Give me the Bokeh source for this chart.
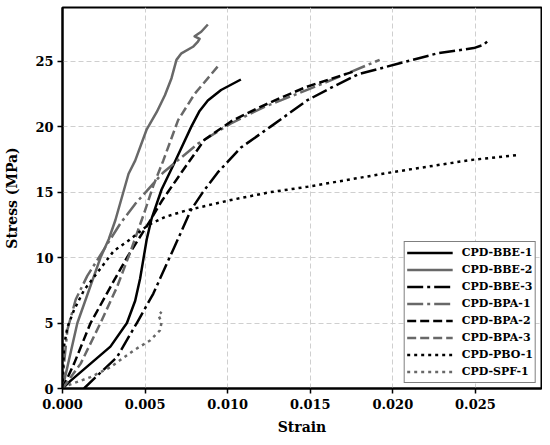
from bokeh.plotting import figure
from bokeh.models import Range1d, FixedTicker, NumeralTickFormatter, Legend, LegendItem
from bokeh.embed import file_html
from bokeh.resources import INLINE

# ---- data ----
bbe1_s = [0, 0.0005, 0.0017, 0.0029, 0.0039, 0.0044, 0.0047, 0.0049, 0.0051, 0.0054, 0.0060, 0.0068,
          0.0078, 0.0083, 0.0088, 0.0096, 0.0108]
bbe1_y = [0, 0.6, 1.9, 3.2, 5.0, 6.7, 8.4, 9.9, 11.4, 13.0, 15.2, 17.3,
          20.0, 21.2, 22.0, 22.8, 23.6]

bbe2_s = [0, 0.0009, 0.0023, 0.0028, 0.0032, 0.0040, 0.0044, 0.0051, 0.0057, 0.0062, 0.0066, 0.0069,
          0.0072, 0.0079, 0.0082, 0.0083, 0.0080, 0.0084, 0.0088]
bbe2_y = [0, 5.0, 10.0, 11.4, 12.85, 16.4, 17.4, 19.8, 21.1, 22.4, 23.7, 25.1,
          25.6, 26.1, 26.5, 26.7, 26.9, 27.25, 27.8]

bbe3_s = [0.0013, 0.0019, 0.0033, 0.0045, 0.0055, 0.0063, 0.0067, 0.0072, 0.00776, 0.0085, 0.0094,
          0.0108, 0.0126, 0.0148, 0.0163, 0.0179, 0.0203, 0.0227, 0.0249, 0.0255, 0.0258]
bbe3_y = [0, 0.74, 2.4, 5.0, 7.25, 9.5, 10.6, 12.0, 13.6, 15.0, 16.5,
          18.4, 20.0, 22.0, 23.0, 24.0, 24.8, 25.6, 26.0, 26.25, 26.6]

bpa1_s = [0, 0.0001, 0.0003, 0.0008, 0.0015, 0.0026, 0.0035, 0.0044, 0.0061, 0.0082, 0.0102,
          0.0122, 0.0150, 0.0175, 0.0192]
bpa1_y = [0, 2.0, 4.5, 6.8, 8.6, 10.8, 12.6, 14.1, 16.5, 18.7, 20.25,
          21.5, 22.9, 24.2, 25.1]

bpa2_s = [0, 0.0007, 0.0017, 0.0029, 0.0039, 0.0052, 0.0060, 0.0072, 0.0086, 0.0102, 0.0118,
          0.0132, 0.0148, 0.0176]
bpa2_y = [0, 1.9, 5.0, 7.75, 10.0, 12.6, 14.3, 16.5, 19.0, 20.4, 21.4,
          22.2, 23.05, 24.2]

bpa3_s = [0, 0.0011, 0.0023, 0.0033, 0.0041, 0.0050, 0.0055, 0.0061, 0.0070, 0.0080, 0.0094]
bpa3_y = [0, 1.9, 5.0, 7.75, 10.4, 13.6, 15.5, 17.4, 20.5, 22.5, 24.6]

pbo1_s = [0, 0.00005, 0.0001, 0.0003, 0.0007, 0.0013, 0.0019, 0.0031, 0.0040, 0.0052, 0.0062, 0.0075,
          0.0102, 0.0126, 0.0148, 0.0201, 0.0247, 0.0275]
pbo1_y = [0, 2.0, 3.3, 4.7, 6.0, 7.5, 8.5, 10.5, 11.3, 12.5, 13.1, 13.6,
          14.4, 15.0, 15.4, 16.55, 17.45, 17.83]

spf1_s = [0, 0.0003, 0.0017, 0.0029, 0.0043, 0.0053, 0.0059, 0.0060, 0.0058, 0.0060]
spf1_y = [0, 0.23, 0.87, 1.63, 2.9, 3.67, 4.44, 5.07, 5.6, 5.85]

labels = ["CPD-BBE-1", "CPD-BBE-2", "CPD-BBE-3", "CPD-BPA-1",
          "CPD-BPA-2", "CPD-BPA-3", "CPD-PBO-1", "CPD-SPF-1"]
x_ticks = [0.0, 0.005, 0.010, 0.015, 0.020, 0.025]
y_ticks = [0, 5, 10, 15, 20, 25]

series = [(bbe1_s, bbe1_y), (bbe2_s, bbe2_y), (bbe3_s, bbe3_y), (bpa1_s, bpa1_y),
          (bpa2_s, bpa2_y), (bpa3_s, bpa3_y), (pbo1_s, pbo1_y), (spf1_s, spf1_y)]

BLACK = "#000000"
GRAY = "#686868"
styles = [
    (BLACK, "solid"),
    (GRAY, "solid"),
    (BLACK, "16 4 3 4"),
    (GRAY, "16 4 3 4"),
    (BLACK, "9 4"),
    (GRAY, "9 4"),
    (BLACK, "3 4"),
    (GRAY, "3 4"),
]

FONT = "DejaVu Serif"

p = figure(width=542, height=437, output_backend="svg", toolbar_location=None,
           x_range=Range1d(0, 0.029), y_range=Range1d(0, 29.1),
           min_border_left=62, min_border_right=1, min_border_top=7, min_border_bottom=48)

p.outline_line_color = "black"
p.outline_line_width = 2
p.background_fill_color = "white"
p.border_fill_color = "white"

for g in (p.xgrid, p.ygrid):
    g.grid_line_color = "#cfcfcf"
    g.grid_line_dash = "5 3"
    g.grid_line_width = 1

p.xaxis.ticker = FixedTicker(ticks=x_ticks)
p.yaxis.ticker = FixedTicker(ticks=y_ticks)
p.xaxis.formatter = NumeralTickFormatter(format="0.000")

for ax in (p.xaxis, p.yaxis):
    ax.axis_line_width = 2
    ax.axis_line_color = "black"
    ax.major_tick_in = 0
    ax.major_tick_out = 5
    ax.major_tick_line_width = 1.5
    ax.major_tick_line_color = "black"
    ax.minor_tick_line_color = None
    ax.major_label_text_font = FONT
    ax.major_label_text_font_style = "bold"
    ax.major_label_text_font_size = "13px"
    ax.major_label_text_color = "black"
    ax.axis_label_text_font = FONT
    ax.axis_label_text_font_style = "bold"
    ax.axis_label_text_font_size = "14px"
    ax.axis_label_text_color = "black"

p.xaxis.major_label_standoff = 5
p.yaxis.major_label_standoff = 4
p.xaxis.axis_label = "Strain"
p.yaxis.axis_label = "Stress (MPa)"
p.xaxis.axis_label_standoff = 7
p.yaxis.axis_label_standoff = 12

items = []
for (sx, sy), lab, (col, dash) in zip(series, labels, styles):
    r = p.line(sx, sy, line_color=col, line_width=2.5, line_dash=dash, line_join="round")
    items.append(LegendItem(label=lab, renderers=[r]))

legend = Legend(items=items, location="bottom_right")
legend.label_text_font = FONT
legend.label_text_font_style = "bold"
legend.label_text_font_size = "11px"
legend.label_text_color = "black"
legend.glyph_width = 46
legend.glyph_height = 17
legend.label_height = 17
legend.label_standoff = 9
legend.spacing = 0
legend.padding = 2
legend.margin = 5
legend.border_line_color = "black"
legend.border_line_width = 1.5
legend.background_fill_color = "white"
legend.background_fill_alpha = 1.0
p.add_layout(legend, "center")

open("out.html", "w").write(file_html(p, INLINE))
